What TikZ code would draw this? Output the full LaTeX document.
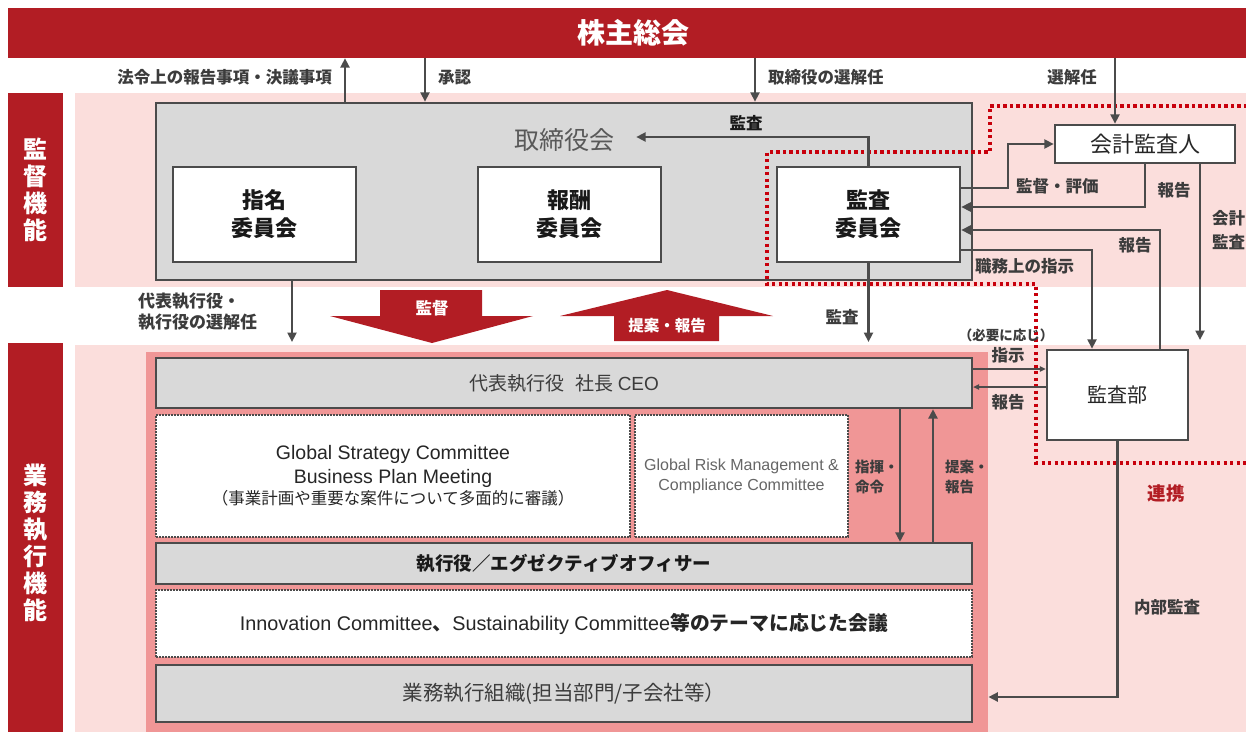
\documentclass[tikz,border=0pt]{standalone}
\usepackage{fontspec}
\setmainfont{Liberation Sans}
\newfontfamily\jp{Noto Sans CJK JP}
\newfontfamily\lat{Liberation Sans}
\usetikzlibrary{arrows.meta,calc}
\definecolor{dred}{RGB}{178,29,36}
\definecolor{lpink}{RGB}{251,222,220}
\definecolor{salmon}{RGB}{240,150,150}
\definecolor{boxgray}{RGB}{217,217,217}
\definecolor{edgec}{RGB}{75,75,75}
\definecolor{txt}{RGB}{60,60,60}
\definecolor{dotred}{RGB}{200,0,12}
\tikzset{
  arr/.style={draw=edgec, line width=2.6pt, -{Triangle[length=9.5pt,width=9pt]}},
  tarr/.style={draw=edgec, line width=1.1pt, -{Triangle[length=6pt,width=5.5pt]}},
  band/.style={fill=dred, text=white, inner sep=0, align=center,
    font=\jp\bfseries\fontsize{24}{27}\selectfont},
  cbox/.style={draw=edgec, line width=2.5pt, fill=white, inner sep=0, align=center,
    minimum width=183, minimum height=95, text=black!90,
    font=\jp\bfseries\fontsize{22}{28}\selectfont},
  wbox/.style={draw=edgec, line width=2.5pt, fill=white, inner sep=0, text=black!85},
  gbox/.style={draw=edgec, line width=2.3pt, fill=boxgray, inner sep=0, text=txt},
  dbox/.style={draw=edgec, line width=1.6pt, dash pattern=on 1.6pt off 1.4pt, fill=white, inner sep=0},
  lbl/.style={inner sep=0, text=txt, font=\jp\bfseries\fontsize{16.5}{20}\selectfont},
  redline/.style={draw=dotred, line width=3.2pt, dash pattern=on 3.2pt off 3.3pt},
}
\begin{document}
\begin{tikzpicture}[x=1pt,y=-1pt]
\useasboundingbox (0,0) rectangle (1246,731);
\clip (0,0) rectangle (1246,731);
% column / row helpers
\coordinate (c292) at (292,0);
\coordinate (c345) at (345,0);
\coordinate (c425) at (425,0);
\coordinate (c755) at (755,0);
\coordinate (c900) at (900,0);
\coordinate (c933) at (933,0);
\coordinate (c1008) at (1008,0);
\coordinate (c1092) at (1092,0);
\coordinate (c1115) at (1115,0);
\coordinate (c1160) at (1160,0);
\coordinate (c1200) at (1200,0);
\coordinate (y188) at (0,188);
\coordinate (y207) at (0,207);
\coordinate (y230) at (0,230);
\coordinate (y250) at (0,250);
\coordinate (y340) at (0,340);
\coordinate (y342) at (0,342);
\coordinate (y369) at (0,369);
\coordinate (y387) at (0,387);
\coordinate (y697) at (0,697);

% backgrounds
\fill[lpink] (75,93) rectangle (1260,287);
\fill[lpink] (75,345) rectangle (1260,745);

% general meeting
\node[fill=dred, text=white, inner sep=0, minimum width=1250, minimum height=50,
  font=\jp\bfseries\fontsize{28}{28}\selectfont] (gm) at (633,33) {株主総会};

% side labels
\node[band, minimum width=55, minimum height=194] (supL) at (35.5,190) {監\\督\\機\\能};
\node[band, minimum width=55, minimum height=400] (exeL) at (35.5,543) {業\\務\\執\\行\\機\\能};

% execution area
\node[fill=salmon, inner sep=0, minimum width=842, minimum height=395, anchor=north west] (exeA) at (146,352) {};

% board
\node[draw=edgec, line width=2.5pt, fill=boxgray, inner sep=0, minimum width=816, minimum height=177] (board) at (564,191.5) {};
\node[inner sep=0, text=black!65, font=\jp\fontsize{25}{25}\selectfont] (boardT) at (564,140) {取締役会};
\node[cbox] (nom) at (264.5,214.5) {指名\\委員会};
\node[cbox] (rem) at (569.5,214.5) {報酬\\委員会};
\node[cbox] (aud) at (868.5,214.5) {監査\\委員会};

% accounting auditor and internal audit
\node[wbox, minimum width=180, minimum height=38, font=\jp\fontsize{22}{22}\selectfont] (acc) at (1145,144) {会計監査人};
\node[wbox, minimum width=141, minimum height=90, font=\jp\fontsize{20}{20}\selectfont] (iad) at (1117.5,395) {監査部};

% execution boxes
\node[gbox, minimum width=816, minimum height=50, font=\jp\fontsize{19}{19}\selectfont] (ceo) at (564,383) {代表執行役\hspace{0.6em}社長 {\lat CEO}};
\node[dbox, minimum width=474, minimum height=122, align=center, text=black!85,
  font=\lat\fontsize{19.5}{24}\selectfont] (gs) at (393,476)
  {Global Strategy Committee\\Business Plan Meeting\\[-3pt]{\jp\fontsize{16.5}{18}\selectfont（事業計画や重要な案件について多面的に審議）}};
\node[dbox, minimum width=213, minimum height=122, align=center, text=black!60,
  font=\lat\fontsize{16}{20}\selectfont] (grm) at (741.5,476) {Global Risk Management \&\\Compliance Committee};
\node[gbox, minimum width=816, minimum height=41, text=black!90, font=\jp\bfseries\fontsize{18.5}{18.5}\selectfont] (eo) at (564,563.5) {執行役／エグゼクティブオフィサー};
\node[dbox, minimum width=816, minimum height=67, text=black!85, font=\jp\bfseries\fontsize{19.8}{19.8}\selectfont] (inno) at (564,623.5)
  {{\lat\mdseries Innovation Committee}、{\lat\mdseries Sustainability Committee}等のテーマに応じた会議};
\node[gbox, minimum width=816, minimum height=57, font=\jp\fontsize{20.5}{20.5}\selectfont] (org) at (564,693.5) {業務執行組織(担当部門/子会社等）};

% big arrows
\fill[dred] (380,290) -- (482,290) -- (482,316) -- (533,316) -- (432,343) -- (330,316) -- (380,316) -- cycle;
\node[inner sep=0, text=white, font=\jp\bfseries\fontsize{16.5}{16.5}\selectfont] (kantoku) at (432,308) {監督};
\fill[dred] (667,290) -- (773,316) -- (719,316) -- (719,341) -- (614,341) -- (614,316) -- (560,316) -- cycle;
\node[inner sep=0, text=white, font=\jp\bfseries\fontsize{15.5}{15.5}\selectfont] (teian) at (667,326) {提案・報告};

% cooperation dotted boundary
\draw[redline] (1260,106) -- (990,106) -- (990,152) -- (767,152) -- (767,284) -- (1036,284) -- (1036,463) -- (1260,463);

% connectors
\draw[arr] (board.north -| c345) -- (gm.south -| c345);
\draw[arr] (gm.south -| c425) -- (board.north -| c425);
\draw[arr] (gm.south -| c755) -- (board.north -| c755);
\draw[arr] (gm.south -| c1115) -- (acc.north -| c1115);
\draw[arr] (aud.north) |- ($(boardT.east)+(22,-3)$);
\draw[arr] (aud.east |- y188) -- (c1008 |- y188) |- (acc.west);
\draw[arr] (acc.south) |- (aud.east |- y207);
\draw[arr] (iad.north -| c1160) |- (aud.east |- y230);
\draw[arr] (aud.east |- y250) -| (iad.north -| c1092);
\draw[arr] (acc.south -| c1200) -- (c1200 |- y340);
\draw[arr] (board.south -| c292) -- (c292 |- y342);
\draw[arr] (aud.south) -- (aud.south |- y342);
\draw[tarr] (ceo.east |- y369) -- (iad.west |- y369);
\draw[tarr] (iad.west |- y387) -- (ceo.east |- y387);
\draw[arr] (ceo.south -| c900) -- (eo.north -| c900);
\draw[arr] (eo.north -| c933) -- (ceo.south -| c933);
\draw[arr] (iad.south) |- (exeA.east |- y697);

% labels
\node[lbl, anchor=east] (t1) at (332,77) {法令上の報告事項・決議事項};
\node[lbl, anchor=west] (t2) at (438,77) {承認};
\node[lbl, anchor=west] (t3) at (768,77) {取締役の選解任};
\node[lbl, anchor=east] (t4) at (1097,77) {選解任};
\node[lbl, text=black!90] (t5) at (746,123) {監査};
\node[lbl, anchor=west] (t6) at (1016,186) {監督・評価};
\node[lbl] (t7) at (1174,190) {報告};
\node[lbl] (t8) at (1135,245) {報告};
\node[lbl, anchor=west] (t9) at (975,266) {職務上の指示};
\node[lbl, anchor=west, align=left, font=\jp\bfseries\fontsize{16.5}{24}\selectfont] (t10) at (1212,230) {会計\\監査};
\node[lbl, anchor=west, align=left, font=\jp\bfseries\fontsize{17}{21}\selectfont] (t11) at (138,312) {代表執行役・\\執行役の選解任};
\node[lbl] (t12) at (842,317) {監査};
\node[lbl, font=\jp\bfseries\fontsize{13.5}{13.5}\selectfont] (t13) at (1006,335) {（必要に応じ）};
\node[lbl] (t14) at (1008,355) {指示};
\node[lbl] (t15) at (1008,402) {報告};
\node[lbl, anchor=west, align=left, font=\jp\bfseries\fontsize{14.5}{20}\selectfont] (t16) at (855,477) {指揮・\\命令};
\node[lbl, anchor=west, align=left, font=\jp\bfseries\fontsize{14.5}{20}\selectfont] (t17) at (945,477) {提案・\\報告};
\node[lbl] (t18) at (1167,607) {内部監査};
\node[inner sep=0, text=dred, font=\jp\bfseries\fontsize{18.5}{18.5}\selectfont] (t19) at (1166,493) {連携};
\end{tikzpicture}
\end{document}
